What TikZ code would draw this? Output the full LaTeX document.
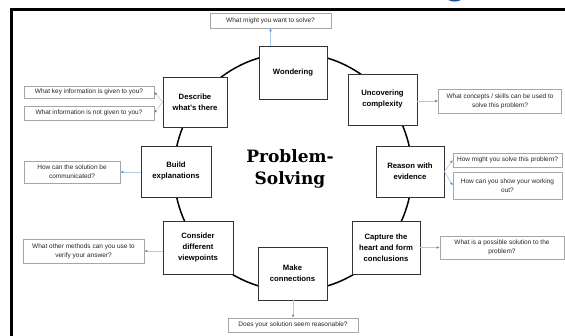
\documentclass[tikz,border=0pt]{standalone}
\usepackage{fontspec}
\setmainfont{Liberation Sans}
\newfontfamily\centerfont{DejaVu Serif}
\usetikzlibrary{arrows.meta}
\definecolor{qline}{HTML}{A6A6A6}
\definecolor{arr}{HTML}{A9CBEA}
\definecolor{arrh}{HTML}{4A90D9}
\definecolor{tlight}{HTML}{4A97DB}
\definecolor{tdark}{HTML}{1F4E9E}
\begin{document}
\begin{tikzpicture}[x=1pt,y=-1pt,
  mainbox/.style={draw=black!80,line width=0.8pt,fill=white,align=center,
    font=\bfseries\fontsize{7.7}{11}\selectfont,inner sep=1pt},
  qbox/.style={draw=qline,line width=0.6pt,fill=white,align=center,
    font=\fontsize{6.5}{9}\selectfont,text=black!85,inner sep=1pt},
  qarrow/.style={draw=arr,line width=0.6pt,-{Latex[length=3pt,width=2.6pt,color=arrh]}}]
\useasboundingbox (0,0) rectangle (565,336);
\fill[white] (0,0) rectangle (565,336);
% partially visible title
\node[anchor=base west,inner sep=0,text=tlight,font=\bfseries\fontsize{50}{50}\selectfont] (ttl1) at (93,-5) {Problem};
\node[anchor=base east,inner sep=0,text=tdark,font=\bfseries\fontsize{40}{40}\selectfont] (ttl2) at (468,-6) {Solving};
% frame
\draw[line width=3pt] (11,337) -- (11,10) -- (566,10);
% cycle
\draw[line width=1.5pt] (293,172) circle (119pt);
% main boxes
\node[mainbox,minimum width=68pt,minimum height=53pt] (wond) at (293,72.5) {Wondering};
\node[mainbox,minimum width=64pt,minimum height=50pt] (desc) at (195,102) {Describe\\what's there};
\node[mainbox,minimum width=70pt,minimum height=51pt] (build) at (176,171.5) {Build\\explanations};
\node[mainbox,minimum width=69pt,minimum height=51pt] (unc) at (382.5,99.5) {Uncovering\\complexity};
\node[mainbox,minimum width=68pt,minimum height=51pt] (reas) at (410,171.5) {Reason with\\evidence};
\node[mainbox,minimum width=68pt,minimum height=53pt] (capt) at (386,247.5) {Capture the\\heart and form\\conclusions};
\node[mainbox,minimum width=69pt,minimum height=53pt] (make) at (292.5,273.5) {Make\\connections};
\node[mainbox,minimum width=70pt,minimum height=53pt] (cons) at (198,247.5) {Consider\\different\\viewpoints};
% centre title
\node[font=\centerfont\bfseries\fontsize{17}{22}\selectfont,align=center] (ctr) at (290,169) {Problem-\\Solving};
% question boxes
\node[qbox,minimum width=121pt,minimum height=15pt] (q1) at (270.5,20.5) {What might you want to solve?};
\node[qbox,minimum width=130pt,minimum height=12pt] (q2) at (89,92) {What key information is given to you?};
\node[qbox,minimum width=130pt,minimum height=14pt] (q3) at (89,113) {What information is not given to you?};
\node[qbox,minimum width=96pt,minimum height=22pt] (q4) at (72,172) {How can the solution be\\communicated?};
\node[qbox,minimum width=123pt,minimum height=24pt] (q5) at (500,101) {What concepts / skills can be used to\\solve this problem?};
\node[qbox,minimum width=109pt,minimum height=14pt] (q6) at (507.5,160) {How might you solve this problem?};
\node[qbox,minimum width=109pt,minimum height=27pt] (q7) at (507.5,185.5) {How can you show your working\\out?};
\node[qbox,minimum width=124pt,minimum height=23pt] (q8) at (502,247.5) {What is a possible solution to the\\problem?};
\node[qbox,minimum width=130pt,minimum height=14pt] (q9) at (293,325) {Does your solution seem reasonable?};
\node[qbox,minimum width=121pt,minimum height=24pt] (q10) at (83.5,251) {What other methods can you use to\\verify your answer?};
% arrows
\draw[qarrow] (q1.south |- wond.north) -- (q1.south);
\draw[qarrow] (desc.west) -- (q2.east);
\draw[qarrow] (desc.west) -- (q3.east);
\draw[qarrow] (build.west |- q4.east) -- (q4.east);
\draw[qarrow] (unc.east |- q5.west) -- (q5.west);
\draw[qarrow] (reas.east) -- (q6.west);
\draw[qarrow] (reas.east) -- (q7.west);
\draw[qarrow] (capt.east) -- (q8.west);
\draw[qarrow] (make.south -| q9.north) -- (q9.north);
\draw[qarrow] (cons.west |- q10.east) -- (q10.east);
\end{tikzpicture}
\end{document}
